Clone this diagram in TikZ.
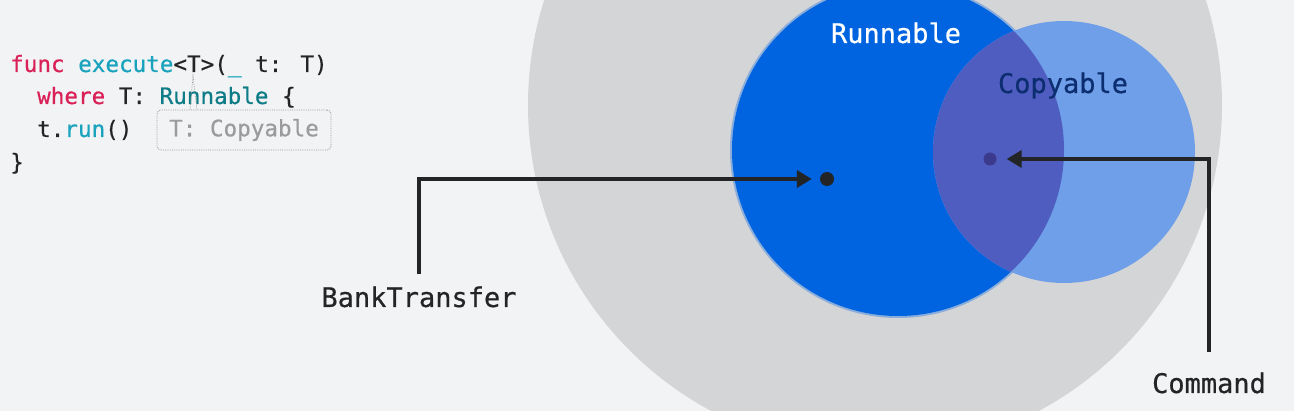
\documentclass[tikz,border=0pt]{standalone}
\usepackage{fontspec}
\setmonofont{DejaVu Sans Mono}
\newfontfamily\heavymono[FakeBold=0.5]{DejaVu Sans Mono}
\usetikzlibrary{arrows.meta}
\definecolor{bgcol}{HTML}{F2F3F5}
\definecolor{setgray}{HTML}{D4D5D7}
\definecolor{runblue}{HTML}{0064E1}
\definecolor{copyblue}{HTML}{6E9FE8}
\definecolor{overlapcol}{HTML}{4F5DC0}
\definecolor{copytext}{HTML}{0C2D70}
\definecolor{cmddotcol}{HTML}{3B3A8C}
\definecolor{inkcol}{HTML}{222426}
\definecolor{kwcol}{HTML}{D92057}
\definecolor{fncol}{HTML}{1AA3BD}
\definecolor{typecol}{HTML}{0E7C86}
\definecolor{hintcol}{HTML}{9B9B9B}
\newcommand{\codefont}{\heavymono\fontsize{22.6}{27}\selectfont}
\newcommand{\labelfont}{\heavymono\fontsize{27}{32}\selectfont}
\begin{document}
\begin{tikzpicture}[x=1pt, y=-1pt, >={Triangle[length=15pt,width=17pt]},
  codeline/.style={anchor=base west, inner sep=0pt, text=inkcol, font=\codefont},
  setlabel/.style={anchor=base, inner sep=0pt, font=\labelfont},
  typelabel/.style={anchor=base, inner xsep=0pt, text=inkcol, font=\labelfont},
  typedot/.style={circle, inner sep=0pt, minimum size=14pt},
  pointer/.style={->, draw=inkcol, line width=4pt}]
  % 1. background
  \useasboundingbox (0,0) rectangle (1294,411);
  \fill[bgcol] (0,0) rectangle (1294,411);

  % 2. sets
  \fill[setgray] (875,105) circle[radius=347pt];
  \fill[runblue!35!setgray] (898,150) circle[radius=168pt];
  \fill[runblue] (898,150) circle[radius=166pt];
  \fill[copyblue] (1064,152) circle[radius=131pt];
  \begin{scope}
    \clip (898,150) circle[radius=166pt];
    \fill[overlapcol] (1064,152) circle[radius=131pt];
  \end{scope}
  \node[setlabel, text=white] (runnable) at (896,43) {Runnable};
  \node[setlabel, text=copytext] (copyable) at (1063,93) {Copyable};

  % 3. types and pointers
  \node[typedot, fill=inkcol] (bankdot) at (827,179) {};
  \node[typedot, fill=cmddotcol, minimum size=13pt] (cmddot) at (990,159) {};
  \node[typelabel, inner ysep=12pt] (bank) at (419,307) {BankTransfer};
  \node[typelabel, inner ysep=20pt] (cmd) at (1209,393) {Command};
  \draw[pointer, shorten >=8pt] (bank.north) |- (bankdot);
  \draw[pointer, shorten >=10pt] (cmd.north) |- (cmddot);

  % 4. code
  \node[codeline] (line1) at (10,72) {\textcolor{kwcol}{func} \textcolor{fncol}{execute}<T>(\textcolor{fncol}{\_} t: T)};
  \node[codeline] (line2) at (37,104) {\textcolor{kwcol}{where} T: \textcolor{typecol}{Runnable} \{};
  \node[codeline] (line3) at (37,137) {t.\textcolor{fncol}{run}()};
  \node[codeline] (line4) at (10,170) {\}};
  \node[draw=hintcol, densely dotted, line width=0.8pt, rounded corners=4pt, minimum width=174pt,
    minimum height=40pt, inner sep=0pt, text=hintcol, font=\codefont] (hint) at (244,130) {T: Copyable};
  \draw[hintcol, densely dotted, line width=0.7pt] (190,110) -- (193,76) -- (197,110);
\end{tikzpicture}
\end{document}
